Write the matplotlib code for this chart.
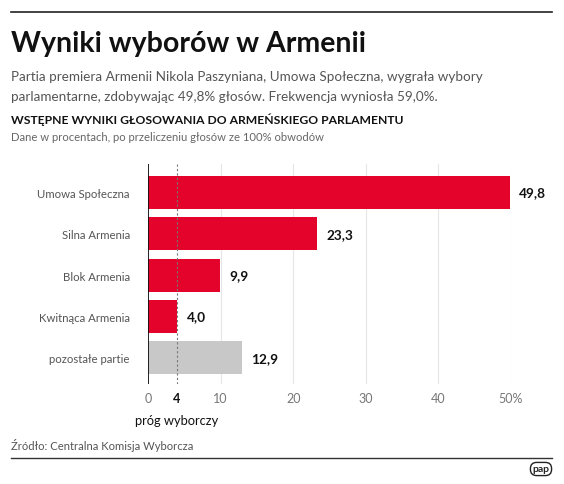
import matplotlib.pyplot as plt
from matplotlib.lines import Line2D

plt.rcParams['font.family'] = ['Lato', 'DejaVu Sans']

parties = ['Umowa Społeczna', 'Silna Armenia', 'Blok Armenia', 'Kwitnąca Armenia', 'pozostałe partie']
votes = [49.8, 23.3, 9.9, 4.0, 12.9]
labels = ['49,8', '23,3', '9,9', '4,0', '12,9']
threshold = 4
xticks = [0, 10, 20, 30, 40, 50]
xtick_labels = ['0', '10', '20', '30', '40', '50%']

red = '#e4032b'
grey = '#c8c8c8'
colors = [red, red, red, red, grey]

fig = plt.figure(figsize=(5.64, 4.85), dpi=100)
W, H = 564, 485

def fx(px):
    return px / W

def fy(py):
    return 1 - py / H

# top and bottom rules
fig.add_artist(Line2D([fx(11), fx(552)], [fy(13), fy(13)], color='#222222', lw=1.2))
fig.add_artist(Line2D([fx(11), fx(552)], [fy(459), fy(459)], color='#333333', lw=1.0))

fig.text(fx(11), fy(52), 'Wyniki wyborów w Armenii', fontsize=20.5, fontweight='bold', color='#111111')
fig.text(fx(11), fy(81), 'Partia premiera Armenii Nikola Paszyniana, Umowa Społeczna, wygrała wybory',
         fontsize=9.7, color='#555555')
fig.text(fx(11), fy(101), 'parlamentarne, zdobywając 49,8% głosów. Frekwencja wyniosła 59,0%.',
         fontsize=9.7, color='#555555')
fig.text(fx(11), fy(124), 'WSTĘPNE WYNIKI GŁOSOWANIA DO ARMEŃSKIEGO PARLAMENTU',
         fontsize=8.7, fontweight='bold', color='#111111')
fig.text(fx(11), fy(141), 'Dane w procentach, po przeliczeniu głosów ze 100% obwodów',
         fontsize=8.1, color='#666666')
fig.text(fx(11), fy(450), 'Źródło: Centralna Komisja Wyborcza', fontsize=8.1, color='#555555')
fig.text(fx(541), fy(470), 'pap', fontsize=7.5, fontweight='bold', color='#222222', ha='center', va='center',
         bbox=dict(boxstyle='round,pad=0.2,rounding_size=0.6', fc='white', ec='#222222', lw=1.0))

ax = fig.add_axes([fx(148), fy(385), fx(511) - fx(148), (385 - 165) / H])
ypos = list(range(len(parties)))
ax.barh(ypos, votes, height=0.8, color=colors, zorder=3)
for y, v, lab in zip(ypos, votes, labels):
    ax.text(v + 1.3, y, lab, va='center', ha='left', fontsize=9.8, fontweight='bold', color='#111111')

ax.set_xlim(0, 50)
ax.set_ylim(4.64, -0.69)
for x in xticks[1:]:
    ax.axvline(x, color='#e6e6e6', lw=0.8, zorder=1)
ax.axvline(threshold, color='#777777', lw=0.8, ls=(0, (2, 2)), zorder=4)
ax.axvline(0, color='#111111', lw=1.3, zorder=5)

for s in ax.spines.values():
    s.set_visible(False)
ax.set_yticks(ypos)
ax.set_yticklabels(parties, fontsize=8.2, color='#555555')
ax.tick_params(axis='y', length=0, pad=13)

allticks = xticks[:1] + [threshold] + xticks[1:]
alllabels = xtick_labels[:1] + ['4'] + xtick_labels[1:]
ax.set_xticks(allticks)
ax.set_xticklabels(alllabels, fontsize=9, color='#777777')
ax.tick_params(axis='x', length=0, pad=6)
for t in ax.get_xticklabels():
    if t.get_text() == '4':
        t.set_color('#111111')
        t.set_fontweight('bold')

ax.text(threshold, -0.135, 'próg wyborczy', transform=ax.get_xaxis_transform(), ha='center', va='top',
        fontsize=9.3, color='#111111')

fig.savefig('out.png', dpi=100, facecolor='white')
